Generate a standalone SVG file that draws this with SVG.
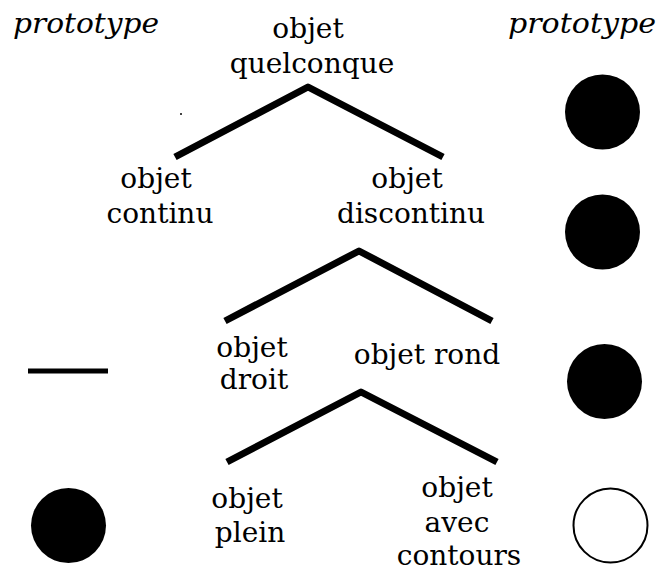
<svg xmlns="http://www.w3.org/2000/svg" width="662" height="571" viewBox="0 0 662 571">
<style>
  .t { font-family: "DejaVu Serif", "Liberation Serif", serif; font-size: 28px; fill: #000; text-anchor: middle; }
  .p { font-family: "DejaVu Serif", "Liberation Serif", serif; font-size: 28px; font-style: italic; fill: #000; }
  .edge { fill: none; stroke: #000; stroke-width: 7; stroke-linejoin: round; stroke-linecap: butt; }
  .dot { fill: #000; }
</style>
<rect width="662" height="571" fill="#fff"/>
<g id="labels">
  <text class="p" x="13" y="33" textLength="146" lengthAdjust="spacingAndGlyphs">prototype</text>
  <text class="p" x="508" y="33" textLength="148" lengthAdjust="spacingAndGlyphs">prototype</text>
</g>
<g id="connectors">
  <polyline class="edge" points="175,157 308,87 443,157"/>
  <polyline class="edge" points="225,321 359,251 492,321"/>
  <polyline class="edge" points="227,462 361,392 497,462"/>
</g>
<g id="node-quelconque">
  <text class="t" x="308" y="38">objet</text>
  <text class="t" x="312" y="73">quelconque</text>
</g>
<g id="node-continu">
  <text class="t" x="156" y="188">objet</text>
  <text class="t" x="160" y="223">continu</text>
</g>
<g id="node-discontinu">
  <text class="t" x="407" y="188">objet</text>
  <text class="t" x="411" y="223">discontinu</text>
</g>
<g id="node-droit">
  <text class="t" x="252" y="357">objet</text>
  <text class="t" x="254" y="389">droit</text>
</g>
<g id="node-rond">
  <text class="t" x="427" y="364">objet rond</text>
</g>
<g id="node-plein">
  <text class="t" x="247" y="508">objet</text>
  <text class="t" x="250" y="542">plein</text>
</g>
<g id="node-contours">
  <text class="t" x="457" y="497">objet</text>
  <text class="t" x="457" y="532">avec</text>
  <text class="t" x="459" y="565">contours</text>
</g>
<g id="prototypes">
  <circle class="dot" cx="602.5" cy="112" r="37.5"/>
  <circle class="dot" cx="602.5" cy="232" r="37.5"/>
  <circle class="dot" cx="604.5" cy="381.5" r="37.5"/>
  <circle cx="610.5" cy="525.5" r="37" fill="#fff" stroke="#000" stroke-width="2"/>
  <line x1="28" y1="371" x2="108" y2="371" stroke="#000" stroke-width="5"/>
  <circle class="dot" cx="68.5" cy="525.5" r="37.5"/>
  <rect x="180" y="113" width="2" height="2" fill="#444"/>
</g>
</svg>
